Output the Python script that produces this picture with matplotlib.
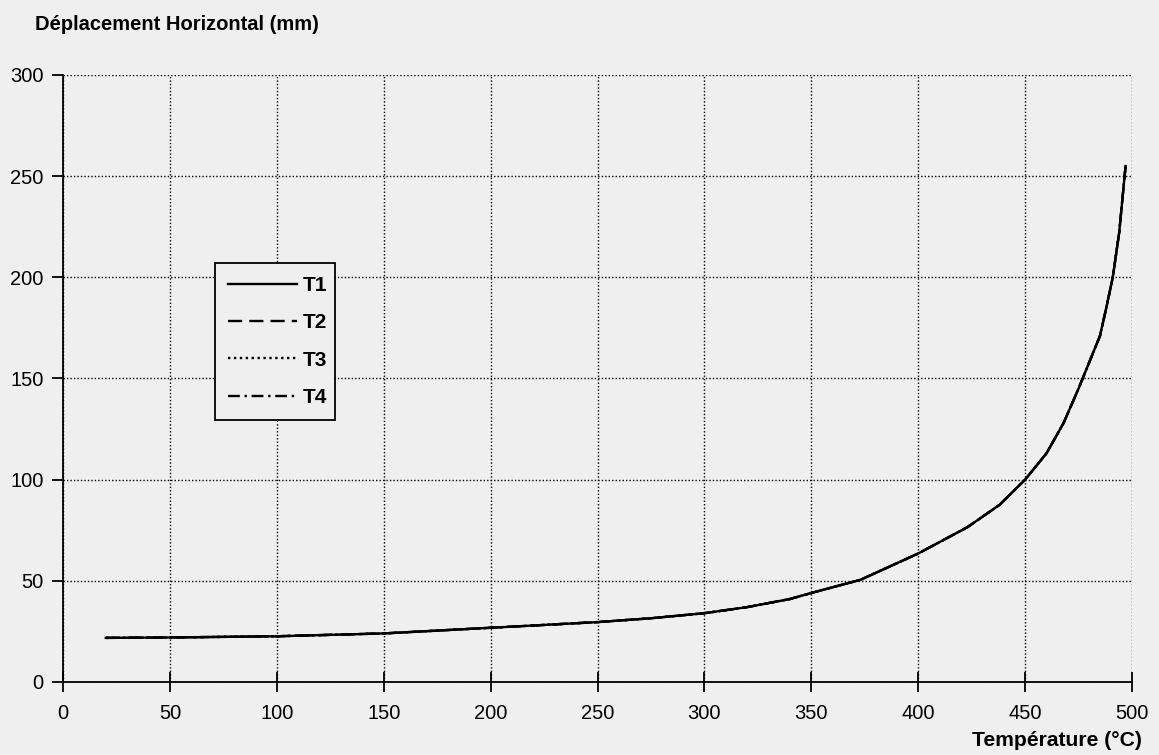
import numpy as np
import matplotlib as mpl
import matplotlib.pyplot as plt

# data: horizontal displacement vs temperature
temperature = [20, 50, 100, 150, 200, 250, 275, 300, 320, 340, 350, 373, 400,
               423, 438, 450, 460, 468, 475, 480, 485, 488, 491, 494, 497]
disp_t1 = [21.8, 22.0, 22.6, 24.0, 26.8, 29.6, 31.5, 34.0, 37.0, 41.0, 44.0,
           50.5, 63.5, 76.5, 87.5, 100.0, 113.0, 128.0, 145.0, 158.0, 171.0,
           185.0, 200.0, 222.0, 255.0]
# the four runs overlap on the whole range
disp_t2 = disp_t1
disp_t3 = disp_t1
disp_t4 = disp_t1

series_names = ['T1', 'T2', 'T3', 'T4']
series_vals = [disp_t1, disp_t2, disp_t3, disp_t4]
series_styles = ['-', (0, (6, 3)), (0, (1, 1.5)), (0, (5, 2, 1, 2))]

x_ticks = [0, 50, 100, 150, 200, 250, 300, 350, 400, 450, 500]
y_ticks = [0, 50, 100, 150, 200, 250, 300]

bg = '#efefef'
font = {'family': 'Liberation Sans', 'weight': 'normal', 'size': 14.5}
plt.rc('font', **font)

fig = plt.figure(figsize=(11.59, 7.55), dpi=100, facecolor=bg)
ax = fig.add_axes([0.0544, 0.0967, 0.9223, 0.804])
ax.set_facecolor(bg)

# draw T4 first so the solid T1 sits on top
for name, vals, ls in reversed(list(zip(series_names, series_vals, series_styles))):
    ax.plot(temperature, vals, color='k', lw=1.7, linestyle=ls, label=name, zorder=3)

ax.set_xlim(0, 500)
ax.set_ylim(0, 300)
ax.set_xticks(x_ticks)
ax.set_yticks(y_ticks)

ax.grid(True, color='k', linestyle=(0, (1, 1.5)), linewidth=1.0)
ax.set_axisbelow(True)

for side in ['top', 'right']:
    ax.spines[side].set_visible(False)
for side in ['left', 'bottom']:
    ax.spines[side].set_linewidth(1.3)
    ax.spines[side].set_color('k')

ax.tick_params(axis='x', direction='inout', length=14, width=1.3, pad=9)
ax.tick_params(axis='y', direction='out', length=8, width=1.3, pad=6)

handles, labels = ax.get_legend_handles_labels()
leg = ax.legend(handles[::-1], labels[::-1], loc='upper left',
                bbox_to_anchor=(0.142, 0.428, 0.112, 0.262), mode='expand',
                handlelength=3.3, handletextpad=0.3, labelspacing=0.88,
                borderpad=0.62, borderaxespad=0, fancybox=False, framealpha=1,
                prop={'weight': 'bold', 'size': 15})
leg.get_frame().set_facecolor(bg)
leg.get_frame().set_edgecolor('k')
leg.get_frame().set_linewidth(1.3)

fig.text(0.030, 0.968, 'Déplacement Horizontal (mm)', fontsize=14.5,
         fontweight='bold', ha='left', va='center')
fig.text(0.985, 0.019, 'Température (°C)', fontsize=15.2,
         fontweight='bold', ha='right', va='center')

fig.savefig('out.png', dpi=100, facecolor=bg)
